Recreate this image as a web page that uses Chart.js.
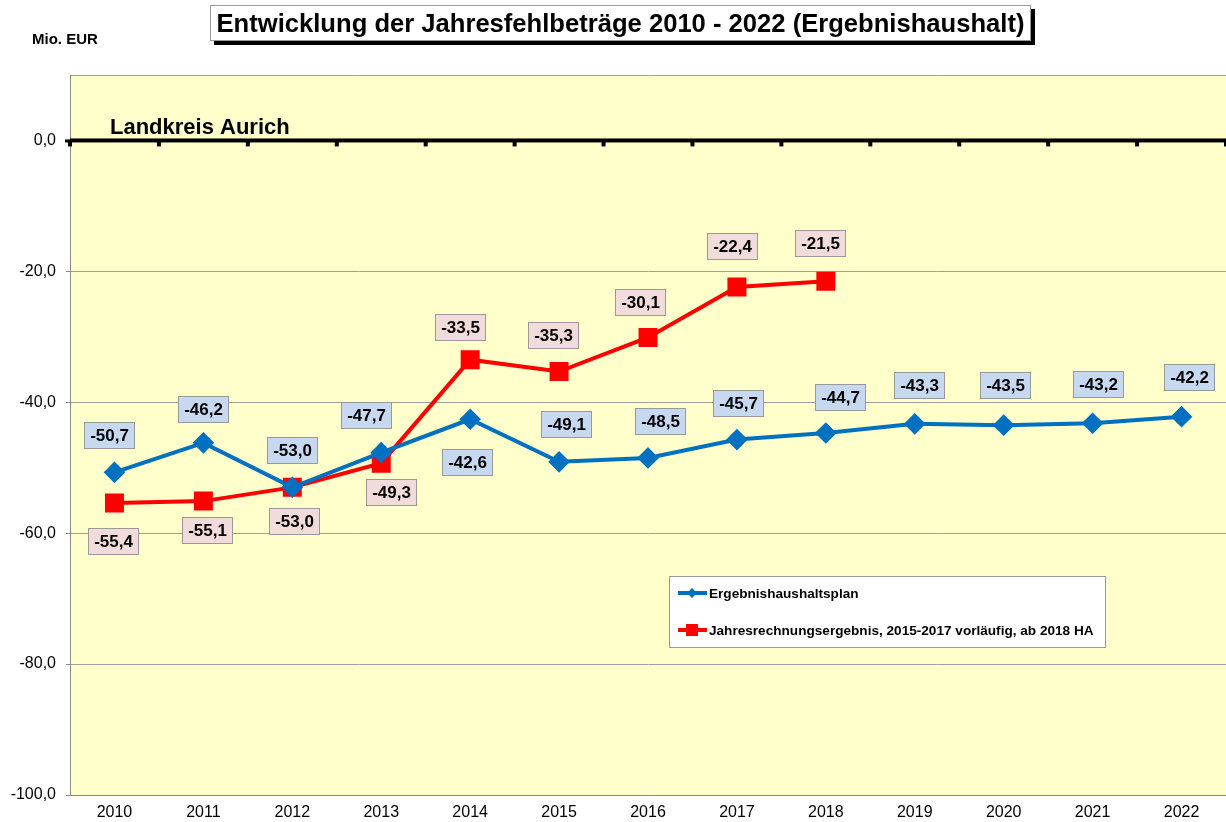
<!DOCTYPE html>
<html>
<head>
<meta charset="utf-8">
<script src="https://cdn.jsdelivr.net/npm/chart.js@4/dist/chart.umd.min.js"></script>
<style>
  body { margin: 0; background: #fff; font-family: "Liberation Sans", Arial, sans-serif; }
  #wrap { position: relative; width: 1226px; height: 822px; overflow: hidden; }
  #chart { position: absolute; left: 0; top: 0; }
  #title {
    position: absolute; left: 210px; top: 5px; width: 819px; height: 34px;
    border: 1px solid #999; background: #fff; box-shadow: 4px 4px 0 #000;
    font-weight: bold; font-size: 25.6px; line-height: 35px; text-align: center; color: #000;
  }
  #unit { position: absolute; left: 32px; top: 30px; font-weight: bold; font-size: 15px; }
</style>
</head>
<body>
<div id="wrap">
  <canvas id="chart" width="1226" height="822"></canvas>
  <div id="title">Entwicklung der Jahresfehlbeträge 2010 - 2022 (Ergebnishaushalt)</div>
  <div id="unit">Mio. EUR</div>
</div>
<script>
const years = ['2010', '2011', '2012', '2013', '2014', '2015', '2016', '2017', '2018', '2019', '2020', '2021', '2022'];
const planValues = [-50.7, -46.2, -53.0, -47.7, -42.6, -49.1, -48.5, -45.7, -44.7, -43.3, -43.5, -43.2, -42.2];
const resultValues = [-55.4, -55.1, -53.0, -49.3, -33.5, -35.3, -30.1, -22.4, -21.5, null, null, null, null];
const yTicks = [-100, -80, -60, -40, -20, 0];
const planName = 'Ergebnishaushaltsplan';
const resultName = 'Jahresrechnungsergebnis, 2015-2017 vorläufig, ab 2018 HA';

// label offsets (pixels, relative to point)
const planLabelDx = [-5, 0, 0, -15, -3, 7, 12, 1, 14, 4, 1, 5, 7];
const planLabelDy = [-37, -34, -37, -38, 43, -38, -37, -37, -36, -39, -40, -39, -40];
const resultLabelDx = [-1, 4, 2, 10, -10, -6, -8, -5, -6];
const resultLabelDy = [38, 29, 34, 29, -33, -37, -35, -41, -38];

const fmt = v => v.toFixed(1).replace('.', ',');
const FONT = '"Liberation Sans", Arial, sans-serif';

const bgPlugin = {
  id: 'bg',
  beforeDraw(chart) {
    const a = chart.chartArea, c = chart.ctx;
    c.save();
    c.fillStyle = '#FFFFCC';
    c.fillRect(a.left, a.top, a.right - a.left, a.bottom - a.top);
    c.restore();
  },
  beforeDatasetsDraw(chart) {
    const a = chart.chartArea, c = chart.ctx;
    const y0 = chart.scales.y.getPixelForValue(0);
    const step = (a.right - a.left) / years.length;
    c.save();
    c.fillStyle = '#000';
    c.fillRect(a.left, y0 - 2, a.right - a.left, 4);
    for (let i = 0; i <= years.length; i++) {
      c.fillRect(a.left + i * step - 2, y0, 4, 6);
    }
    c.fillRect(a.left - 5, y0 - 1, 5, 3);
    c.font = 'bold 22px ' + FONT;
    c.textBaseline = 'alphabetic';
    c.fillText('Landkreis Aurich', 110, y0 - 6);
    c.restore();
  }
};

const labelPlugin = {
  id: 'boxLabels',
  afterDatasetsDraw(chart) {
    const c = chart.ctx;
    const sets = [
      { idx: 0, dx: planLabelDx, dy: planLabelDy, bg: '#C6D9F1' },
      { idx: 1, dx: resultLabelDx, dy: resultLabelDy, bg: '#F2DCDB' }
    ];
    c.save();
    c.font = 'bold 17px ' + FONT;
    c.textAlign = 'center';
    c.textBaseline = 'middle';
    sets.forEach(s => {
      const meta = chart.getDatasetMeta(s.idx);
      const data = chart.data.datasets[s.idx].data;
      meta.data.forEach((pt, i) => {
        if (data[i] === null || data[i] === undefined) return;
        const txt = fmt(data[i]);
        const w = Math.round(c.measureText(txt).width + 11);
        const h = 26;
        const x = Math.round(pt.x + s.dx[i]), y = Math.round(pt.y + s.dy[i]);
        const bx = Math.round(x - w / 2), by = Math.round(y - h / 2);
        c.fillStyle = s.bg;
        c.fillRect(bx, by, w, h);
        c.strokeStyle = '#999';
        c.lineWidth = 1;
        c.strokeRect(bx + 0.5, by + 0.5, w, h);
        c.fillStyle = '#000';
        c.fillText(txt, x + 0.5, y + 1.5);
      });
    });
    c.restore();
  }
};

const legendPlugin = {
  id: 'boxLegend',
  afterDraw(chart) {
    const c = chart.ctx;
    const x = 669, y = 576, w = 436, h = 71;
    c.save();
    c.fillStyle = '#fff';
    c.fillRect(x, y, w, h);
    c.strokeStyle = '#999';
    c.lineWidth = 1;
    c.strokeRect(x + 0.5, y + 0.5, w, h);
    c.font = 'bold 13.6px ' + FONT;
    c.textBaseline = 'middle';
    chart.data.datasets.forEach((ds, i) => {
      const ly = y + 17 + i * 37;
      c.strokeStyle = ds.borderColor;
      c.lineWidth = 4;
      c.beginPath();
      c.moveTo(x + 9, ly);
      c.lineTo(x + 38, ly);
      c.stroke();
      c.fillStyle = ds.borderColor;
      if (i === 0) {
        c.beginPath();
        c.moveTo(x + 23, ly - 5);
        c.lineTo(x + 28, ly);
        c.lineTo(x + 23, ly + 5);
        c.lineTo(x + 18, ly);
        c.closePath();
        c.fill();
      } else {
        c.fillRect(x + 17, ly - 6, 12, 12);
      }
      c.fillStyle = '#000';
      c.fillText(ds.label, x + 40, ly + 1);
    });
    c.restore();
  }
};

new Chart(document.getElementById('chart'), {
  type: 'line',
  data: {
    labels: years,
    datasets: [
      {
        label: planName,
        data: planValues,
        borderColor: '#0070C0',
        backgroundColor: '#0070C0',
        borderWidth: 4,
        pointStyle: 'rectRot',
        pointRadius: 8,
        pointHoverRadius: 8,
        tension: 0
      },
      {
        label: resultName,
        data: resultValues,
        borderColor: '#FF0000',
        backgroundColor: '#FF0000',
        borderWidth: 4,
        pointStyle: 'rect',
        pointRadius: 10.6,
        pointHoverRadius: 10.6,
        tension: 0,
        spanGaps: false
      }
    ]
  },
  options: {
    responsive: false,
    animation: false,
    layout: { autoPadding: false, padding: { left: 0, top: 75, right: 0, bottom: 0 } },
    plugins: { legend: { display: false }, tooltip: { enabled: false }, title: { display: false } },
    scales: {
      x: {
        offset: true,
        grid: { display: false, drawTicks: false },
        border: { display: true, color: '#888', width: 1 },
        ticks: { color: '#000', font: { family: FONT, size: 16 }, padding: 8, maxRotation: 0 },
        afterFit(scale) { scale.height = 27; scale.paddingLeft = 0; scale.paddingRight = 0; }
      },
      y: {
        min: -100,
        max: 10,
        afterBuildTicks(scale) { scale.ticks = yTicks.concat([10]).map(v => ({ value: v })); },
        grid: {
          color: ctx => (ctx.tick && ctx.tick.value === 0) ? 'rgba(0,0,0,0)' : '#a0a0a0',
          lineWidth: 1,
          tickLength: 4,
          tickColor: ctx => (ctx.tick && ctx.tick.value === 10) ? 'rgba(0,0,0,0)' : '#888'
        },
        border: { display: true, color: '#888', width: 1 },
        ticks: {
          color: '#000',
          font: { family: FONT, size: 16 },
          padding: 10,
          callback: v => v > 0 ? '' : fmt(v)
        },
        afterFit(scale) { scale.width = 70; }
      }
    }
  },
  plugins: [bgPlugin, labelPlugin, legendPlugin]
});
</script>
</body>
</html>
